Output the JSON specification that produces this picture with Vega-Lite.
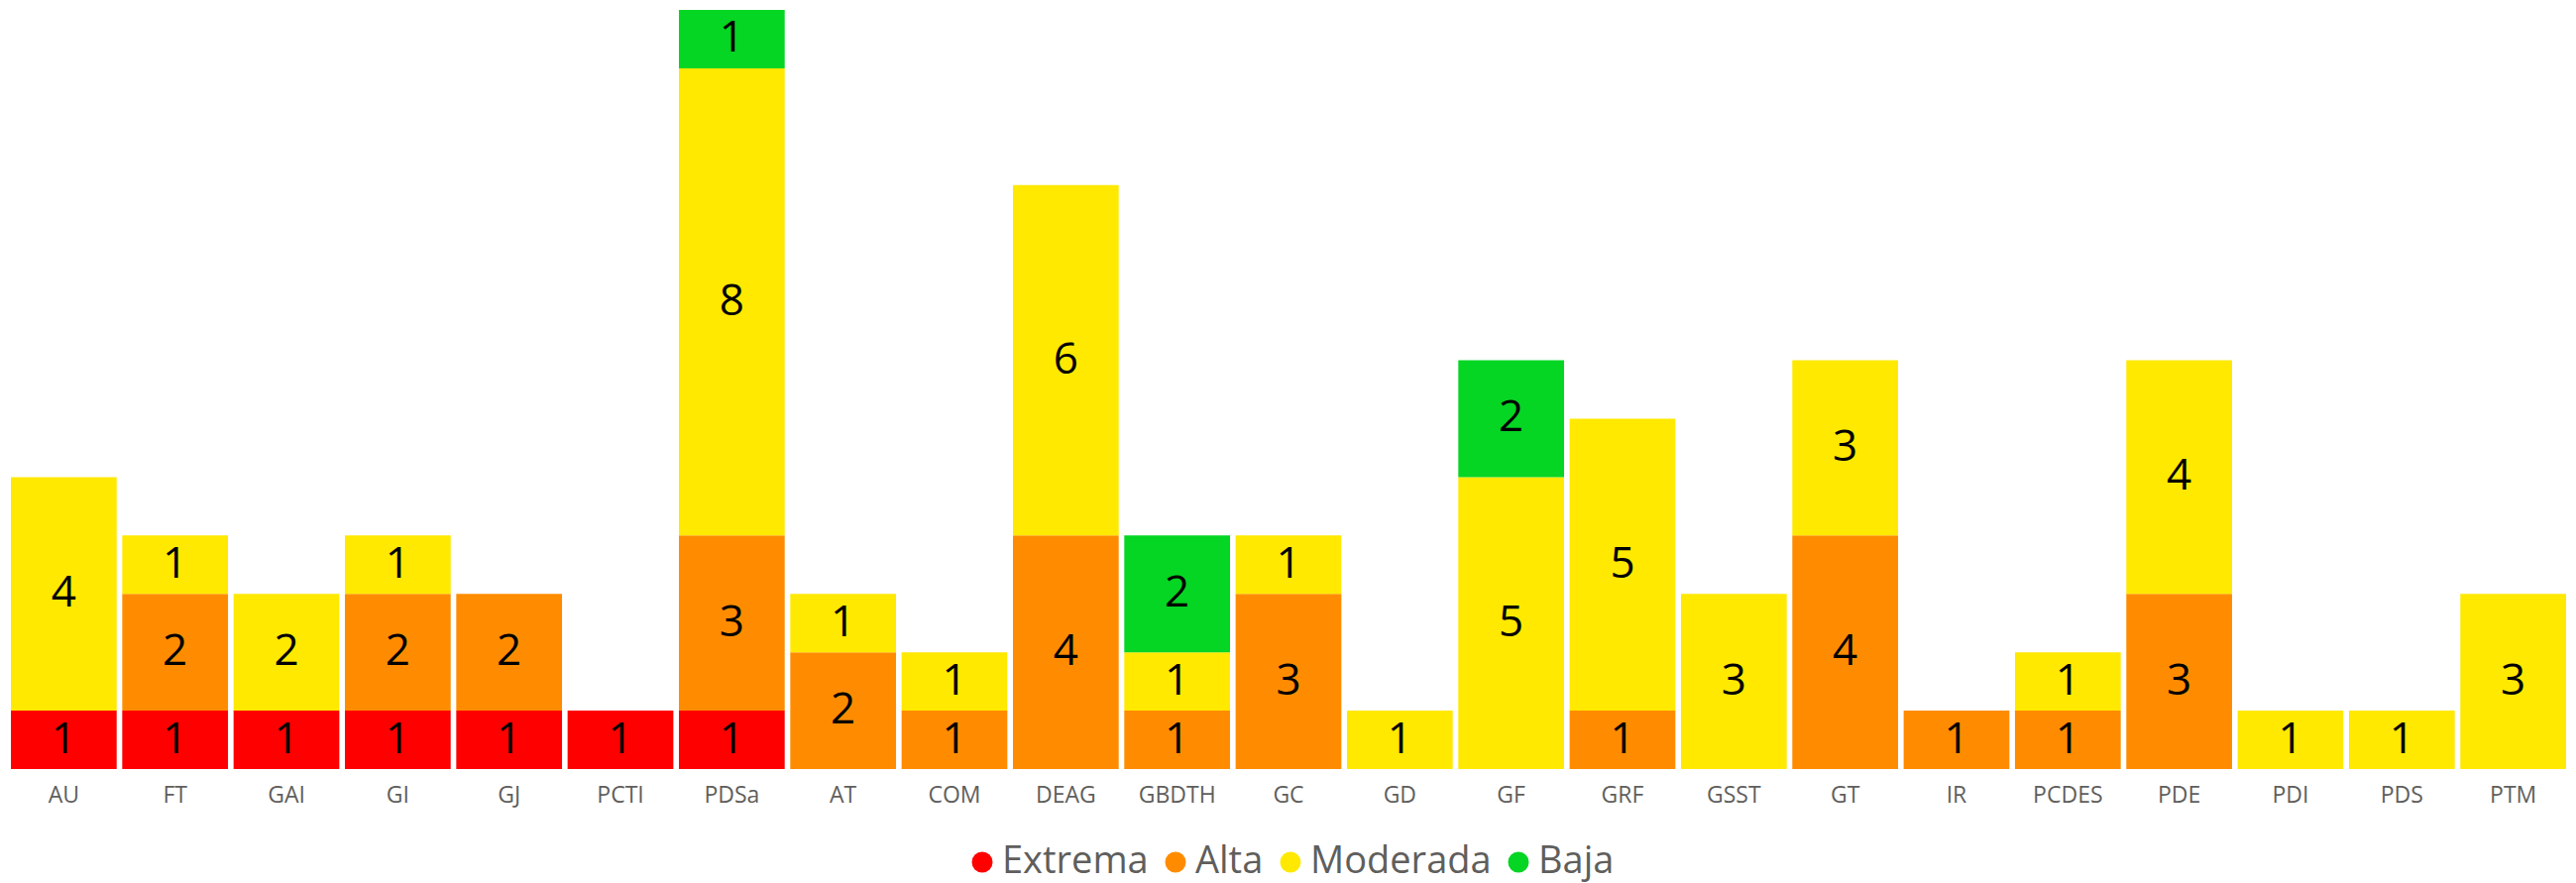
{
  "$schema": "https://vega.github.io/schema/vega-lite/v6.json",
  "autosize": {"type": "none"},
  "padding": {"left": 11, "top": 10, "right": 10, "bottom": 115},
  "width": 2578,
  "height": 766,
  "background": "white",
  "config": {
    "view": {"stroke": null},
    "font": "Open Sans",
    "legend": {"layout": {"bottom": {"anchor": "middle"}}}
  },
  "data": {
    "values": [
      {"area": "AU", "nivel": "Extrema", "rango": 1, "n": 1},
      {"area": "AU", "nivel": "Moderada", "rango": 3, "n": 4},
      {"area": "FT", "nivel": "Extrema", "rango": 1, "n": 1},
      {"area": "FT", "nivel": "Alta", "rango": 2, "n": 2},
      {"area": "FT", "nivel": "Moderada", "rango": 3, "n": 1},
      {"area": "GAI", "nivel": "Extrema", "rango": 1, "n": 1},
      {"area": "GAI", "nivel": "Moderada", "rango": 3, "n": 2},
      {"area": "GI", "nivel": "Extrema", "rango": 1, "n": 1},
      {"area": "GI", "nivel": "Alta", "rango": 2, "n": 2},
      {"area": "GI", "nivel": "Moderada", "rango": 3, "n": 1},
      {"area": "GJ", "nivel": "Extrema", "rango": 1, "n": 1},
      {"area": "GJ", "nivel": "Alta", "rango": 2, "n": 2},
      {"area": "PCTI", "nivel": "Extrema", "rango": 1, "n": 1},
      {"area": "PDSa", "nivel": "Extrema", "rango": 1, "n": 1},
      {"area": "PDSa", "nivel": "Alta", "rango": 2, "n": 3},
      {"area": "PDSa", "nivel": "Moderada", "rango": 3, "n": 8},
      {"area": "PDSa", "nivel": "Baja", "rango": 4, "n": 1},
      {"area": "AT", "nivel": "Alta", "rango": 2, "n": 2},
      {"area": "AT", "nivel": "Moderada", "rango": 3, "n": 1},
      {"area": "COM", "nivel": "Alta", "rango": 2, "n": 1},
      {"area": "COM", "nivel": "Moderada", "rango": 3, "n": 1},
      {"area": "DEAG", "nivel": "Alta", "rango": 2, "n": 4},
      {"area": "DEAG", "nivel": "Moderada", "rango": 3, "n": 6},
      {"area": "GBDTH", "nivel": "Alta", "rango": 2, "n": 1},
      {"area": "GBDTH", "nivel": "Moderada", "rango": 3, "n": 1},
      {"area": "GBDTH", "nivel": "Baja", "rango": 4, "n": 2},
      {"area": "GC", "nivel": "Alta", "rango": 2, "n": 3},
      {"area": "GC", "nivel": "Moderada", "rango": 3, "n": 1},
      {"area": "GD", "nivel": "Moderada", "rango": 3, "n": 1},
      {"area": "GF", "nivel": "Moderada", "rango": 3, "n": 5},
      {"area": "GF", "nivel": "Baja", "rango": 4, "n": 2},
      {"area": "GRF", "nivel": "Alta", "rango": 2, "n": 1},
      {"area": "GRF", "nivel": "Moderada", "rango": 3, "n": 5},
      {"area": "GSST", "nivel": "Moderada", "rango": 3, "n": 3},
      {"area": "GT", "nivel": "Alta", "rango": 2, "n": 4},
      {"area": "GT", "nivel": "Moderada", "rango": 3, "n": 3},
      {"area": "IR", "nivel": "Alta", "rango": 2, "n": 1},
      {"area": "PCDES", "nivel": "Alta", "rango": 2, "n": 1},
      {"area": "PCDES", "nivel": "Moderada", "rango": 3, "n": 1},
      {"area": "PDE", "nivel": "Alta", "rango": 2, "n": 3},
      {"area": "PDE", "nivel": "Moderada", "rango": 3, "n": 4},
      {"area": "PDI", "nivel": "Moderada", "rango": 3, "n": 1},
      {"area": "PDS", "nivel": "Moderada", "rango": 3, "n": 1},
      {"area": "PTM", "nivel": "Moderada", "rango": 3, "n": 3}
    ]
  },
  "encoding": {
    "x": {
      "field": "area",
      "type": "nominal",
      "sort": ["AU", "FT", "GAI", "GI", "GJ", "PCTI", "PDSa", "AT", "COM", "DEAG", "GBDTH", "GC", "GD", "GF", "GRF", "GSST", "GT", "IR", "PCDES", "PDE", "PDI", "PDS", "PTM"],
      "title": null,
      "scale": {"paddingInner": 0.05, "paddingOuter": 0},
      "axis": {"domain": false, "ticks": false, "labelAngle": 0, "labelFontSize": 23, "labelColor": "#605E5C", "labelPadding": 15, "labelFont": "Open Sans"}
    },
    "y": {
      "field": "n",
      "type": "quantitative",
      "stack": "zero",
      "scale": {"domain": [0, 13], "nice": false},
      "axis": null
    },
    "order": {"field": "rango", "type": "quantitative", "sort": "ascending"}
  },
  "layer": [
    {
      "mark": {"type": "bar"},
      "encoding": {
        "color": {
          "field": "nivel",
          "type": "nominal",
          "sort": ["Extrema", "Alta", "Moderada", "Baja"],
          "scale": {"domain": ["Extrema", "Alta", "Moderada", "Baja"], "range": ["#FF0000", "#FF8C00", "#FFE900", "#05D523"]},
          "legend": {
            "title": null,
            "orient": "bottom",
            "direction": "horizontal",
            "symbolType": "circle",
            "symbolSize": 441,
            "symbolStrokeWidth": 0,
            "labelFontSize": 38,
            "labelFont": "Open Sans",
            "labelColor": "#605E5C",
            "labelLimit": 400,
            "labelOffset": 1,
            "columnPadding": 8,
            "offset": 37
          }
        }
      }
    },
    {
      "mark": {"type": "text", "fontSize": 44, "baseline": "middle", "font": "Open Sans"},
      "encoding": {
        "y": {"field": "n", "type": "quantitative", "stack": "zero", "bandPosition": 0.5},
        "text": {"field": "n", "type": "quantitative"},
        "color": {"value": "#000000"},
        "detail": {"field": "nivel", "type": "nominal"}
      }
    }
  ]
}
